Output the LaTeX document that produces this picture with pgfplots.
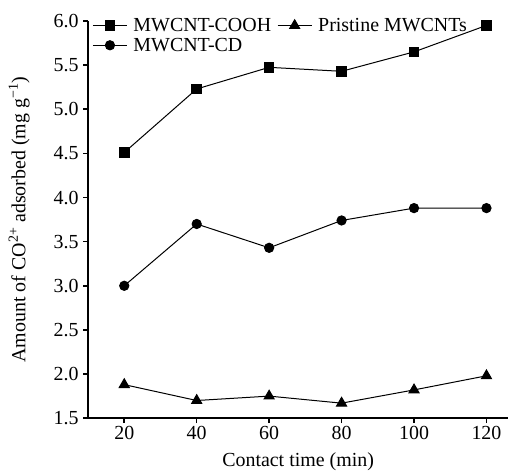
\documentclass[border=0pt]{standalone}
\usepackage{pgfplots}
\pgfplotsset{compat=1.18}
\usepackage{fontspec}
\setmainfont{Liberation Serif}
\begin{document}
\begin{tikzpicture}[font=\fontsize{20}{23}\selectfont]
\begin{axis}[
  scale only axis,
  width=420bp, height=397bp,
  xmin=10, xmax=126,
  ymin=1.5, ymax=6.0,
  axis lines=left,
  axis line style={-, line width=1.6bp},
  every tick/.style={black, line width=1.6bp},
  tick align=outside,
  major tick length=5bp,
  xtick={20,40,...,120},
  ytick={1.5,2.0,...,6.0},
  /pgf/number format/assume math mode=true,
  yticklabel style={/pgf/number format/fixed, /pgf/number format/fixed zerofill, /pgf/number format/precision=1, xshift=-1bp},
  xlabel={Contact time (min)},
  ylabel={Amount of CO\textsuperscript{2+} adsorbed (mg g\textsuperscript{−1})},
  xlabel style={yshift=-6bp},
  ylabel style={yshift=17bp},
  legend columns=2,
  legend style={draw=none, fill=none, at={(0.01,1.01)}, anchor=north west,
    row sep=3bp, column sep=4bp, inner sep=0pt,
    nodes={inner ysep=1bp, inner xsep=2bp}},
  legend cell align=left,
  legend image code/.code={\draw[mark repeat=2,mark phase=2] plot coordinates {(0cm,0cm) (0.6cm,0cm) (1.2cm,0cm)};},
  every axis plot/.append style={black, line width=1bp, mark options={solid, fill=black}},
  clip=false,
]
\addplot[mark=square*, mark size=4.8bp] coordinates {(20,4.51) (40,5.23) (60,5.475) (80,5.43) (100,5.65) (120,5.95)};
\addlegendentry{MWCNT-COOH}
\addplot[mark=triangle*, mark size=5.8bp] coordinates {(20,1.88) (40,1.70) (60,1.75) (80,1.67) (100,1.82) (120,1.98)};
\addlegendentry{Pristine MWCNTs}
\addplot[mark=*, mark size=4.6bp] coordinates {(20,3.00) (40,3.70) (60,3.43) (80,3.74) (100,3.88) (120,3.88)};
\addlegendentry{MWCNT-CD}
\path (rel axis cs:0,1) -- ++(0bp,21bp);
\path (rel axis cs:0,0) -- ++(-88bp,0bp);
\end{axis}
\end{tikzpicture}
\end{document}
